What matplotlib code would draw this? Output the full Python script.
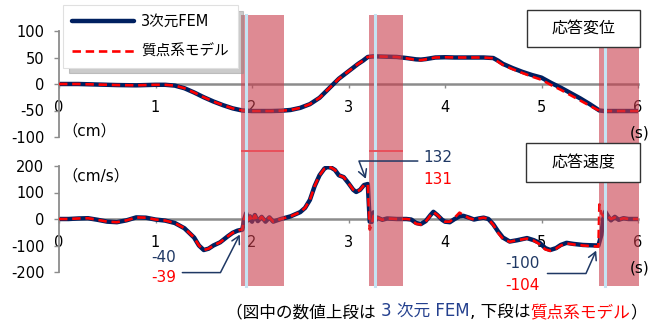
import matplotlib
matplotlib.use("Agg")
import matplotlib.pyplot as plt
from matplotlib.patches import Rectangle

plt.rcParams['font.family'] = ['DejaVu Sans', 'Noto Sans CJK JP']

# ---------------- data ----------------
series_names = ["3次元FEM", "質点系モデル"]

disp_t = [0.0, 0.2, 0.4, 0.6, 0.8, 1.0, 1.1, 1.2, 1.3, 1.4, 1.5, 1.6, 1.7, 1.8, 1.9,
          2.0, 2.1, 2.2, 2.3, 2.4, 2.5, 2.6, 2.7, 2.8, 2.9, 3.0, 3.1, 3.15, 3.2, 3.25,
          3.3, 3.4, 3.5, 3.6, 3.7, 3.75, 3.8, 3.9, 4.0, 4.1, 4.2, 4.3, 4.4, 4.5, 4.55,
          4.6, 4.7, 4.8, 4.9, 5.0, 5.1, 5.2, 5.3, 5.4, 5.5, 5.6, 5.65, 5.7, 5.8, 5.9, 6.0]
disp_fem = [0, 0, -1, -2, -2.5, -1.5, -1.5, -3, -8, -16, -25, -33, -40, -46, -50,
            -51, -51, -51, -50.5, -49, -45, -38, -26, -8, 10, 24, 38, 44, 51, 52,
            52, 51.5, 51, 49, 46.5, 46, 47, 50, 50.5, 50, 50, 50, 50, 49, 44,
            38, 30, 23, 17, 12, 2, -7, -17, -27, -38, -50, -51, -51, -51, -51, -51]
disp_model = [0, 0, -1, -2, -2.5, -1.5, -1.5, -3, -8, -16, -25, -33, -40, -46, -50,
              -51, -51, -51, -50.5, -49, -45, -38, -26, -8, 10, 24, 38, 44, 51, 52,
              52, 51.5, 51, 48.5, 45.5, 45, 46.5, 50, 50.5, 50, 50, 50, 50, 48.5, 42,
              36, 28, 21, 14, 8, -2, -11, -21, -31, -41, -50.5, -51, -51, -51, -51, -51]

vel_t_fem = [0.0, 0.1, 0.2, 0.3, 0.4, 0.5, 0.6, 0.7, 0.8, 0.9, 1.0, 1.1, 1.2, 1.3, 1.4,
             1.45, 1.5, 1.55, 1.6, 1.67, 1.75, 1.8, 1.85, 1.9, 1.92, 1.94, 1.96, 1.98,
             2.0, 2.03, 2.06, 2.1, 2.14, 2.18, 2.22, 2.26, 2.3, 2.35, 2.4, 2.45, 2.5,
             2.55, 2.6, 2.65, 2.7, 2.75, 2.78, 2.82, 2.86, 2.9, 2.95, 3.0, 3.05, 3.08,
             3.12, 3.16, 3.2, 3.22, 3.24, 3.26, 3.28, 3.3, 3.35, 3.4, 3.5, 3.6, 3.65,
             3.7, 3.75, 3.8, 3.85, 3.88, 3.92, 3.97, 4.0, 4.05, 4.1, 4.15, 4.19, 4.25,
             4.3, 4.35, 4.4, 4.45, 4.5, 4.55, 4.6, 4.67, 4.75, 4.85, 4.92, 4.98, 5.04,
             5.09, 5.15, 5.2, 5.26, 5.33, 5.43, 5.5, 5.59, 5.62, 5.64, 5.66, 5.69, 5.72,
             5.76, 5.8, 5.85, 5.9, 6.0]
vel_fem = [0, 0, 2, 3, -3, -10, -12, -5, 6, 5, -2, -6, -15, -35, -70,
           -100, -117, -112, -100, -88, -65, -52, -44, -40, 0, 22, -5, 10,
           -10, 15, -8, 8, -10, 6, -10, -5, 0, 5, 10, 18, 26,
           42, 72, 125, 165, 190, 196, 194, 185, 165, 158, 135, 110, 102,
           110, 128, 132, -10, -11, 25, -5, 5, -3, 2, 0, 0, -2,
           -15, -19, -8, 15, 27, 15, -3, -10, -12, 0, 10, 12, 5,
           -2, 2, 5, 0, -20, -47, -70, -85, -80, -72, -80, -90, -110,
           -117, -110, -98, -90, -94, -98, -99, -100, -60, 0, 28, 10, -5,
           8, -3, 3, 0, 0]

vel_t_model = [0.0, 0.1, 0.2, 0.3, 0.4, 0.5, 0.6, 0.7, 0.8, 0.9, 1.0, 1.1, 1.2, 1.3, 1.4,
               1.45, 1.5, 1.55, 1.6, 1.67, 1.75, 1.8, 1.85, 1.9, 1.92, 1.94, 1.96, 1.98,
               2.0, 2.03, 2.06, 2.1, 2.14, 2.18, 2.22, 2.26, 2.3, 2.35, 2.4, 2.45, 2.5,
               2.55, 2.6, 2.65, 2.7, 2.75, 2.78, 2.82, 2.86, 2.9, 2.95, 3.0, 3.05, 3.08,
               3.12, 3.16, 3.2, 3.22, 3.24, 3.26, 3.28, 3.3, 3.35, 3.4, 3.5, 3.6, 3.65,
               3.7, 3.75, 3.8, 3.85, 3.88, 3.92, 3.97, 4.0, 4.05, 4.1, 4.15, 4.19, 4.25,
               4.3, 4.35, 4.4, 4.45, 4.5, 4.55, 4.6, 4.67, 4.75, 4.85, 4.92, 4.98, 5.04,
               5.09, 5.15, 5.2, 5.26, 5.33, 5.43, 5.5, 5.59, 5.6, 5.62, 5.66, 5.69, 5.72,
               5.76, 5.8, 5.85, 5.9, 6.0]
vel_model = [0, 0, 2, 3, -3, -10, -12, -5, 6, 5, -2, -6, -15, -35, -70,
             -100, -117, -112, -100, -88, -65, -52, -44, -39, 0, 20, -5, 10,
             -10, 14, -8, 8, -10, 6, -10, -5, 0, 5, 10, 18, 26,
             42, 72, 125, 165, 190, 196, 194, 185, 165, 158, 135, 110, 102,
             110, 128, 131, -40, -22, 12, -5, 5, -3, 2, 0, 0, -2,
             -18, -21, -10, 14, 26, 15, -3, -10, -10, 5, 24, 15, 3,
             -2, 2, 5, 0, -22, -52, -75, -86, -80, -74, -82, -95, -115,
             -120, -112, -100, -92, -96, -100, -102, -104, 55, 20, 5, 10, 0,
             6, -3, 3, 0, 0]

# highlighted time windows and marker lines inside them (s)
band_spans = [(1.886, 2.332), (3.212, 3.565), (5.596, 6.01)]
band_marks = [1.943, 3.270, 5.663]

# values called out on the velocity panel: (time, FEM, model)
callouts = [(1.90, -40, -39), (3.20, 132, 131), (5.59, -100, -104)]

disp_ticks = [100, 50, 0, -50, -100]
vel_ticks = [200, 100, 0, -100, -200]
time_ticks = [0, 1, 2, 3, 4, 5, 6]

# ---------------- style ----------------
W, H = 652, 325
NAVY = '#002060'
NAVY_TXT = '#1F3864'
RED = '#FF0000'
GREY = '#8C8C8C'


def frac(x0, y0, x1, y1):
    return [x0 / W, 1 - y1 / H, (x1 - x0) / W, (y1 - y0) / H]


fig = plt.figure(figsize=(W / 100, H / 100), dpi=100)

ax_top = fig.add_axes(frac(59, 31, 638, 137))
ax_bot = fig.add_axes(frac(59, 166, 638, 272))


def style_axis(ax, lim, yticks):
    ax.set_xlim(0, 6)
    ax.set_ylim(-lim, lim)
    ax.patch.set_visible(False)
    for s in ('top', 'right'):
        ax.spines[s].set_visible(False)
    ax.spines['left'].set_color(GREY)
    ax.spines['left'].set_linewidth(1.3)
    ax.spines['bottom'].set_position(('data', 0))
    ax.spines['bottom'].set_color(GREY)
    ax.spines['bottom'].set_linewidth(1.8)
    ax.spines['bottom'].set_zorder(0.5)
    ax.set_yticks(yticks)
    ax.set_yticklabels([str(v) for v in yticks])
    ax.set_xticks(time_ticks)
    ax.set_xticklabels([str(v) for v in time_ticks])
    ax.tick_params(axis='y', direction='out', length=3.6, width=1.0, color=GREY,
                   pad=7, labelsize=10.5, labelcolor='black')
    ax.tick_params(axis='x', direction='out', length=3, width=1.0, color=GREY,
                   pad=8.5, labelsize=10.5, labelcolor='black')


style_axis(ax_top, 100, disp_ticks)
style_axis(ax_bot, 200, vel_ticks)

l_fem, = ax_top.plot(disp_t, disp_fem, color=NAVY, lw=3.2, solid_capstyle='round',
                     solid_joinstyle='round', zorder=2)
l_mod, = ax_top.plot(disp_t, disp_model, color=RED, lw=1.9, dashes=(3.2, 1.8), zorder=3)
ax_bot.plot(vel_t_fem, vel_fem, color=NAVY, lw=3.2, solid_capstyle='round',
            solid_joinstyle='round', zorder=2)
ax_bot.plot(vel_t_model, vel_model, color=RED, lw=1.9, dashes=(3.2, 1.8), zorder=3)

# translucent bands spanning both panels
ax_band = fig.add_axes(frac(59, 15, 638, 286), zorder=3)
ax_band.set_xlim(0, 6)
ax_band.set_ylim(0, 1)
ax_band.axis('off')
for (a, b), m in zip(band_spans, band_marks):
    ax_band.axvspan(a, b, color='#C83C4B', alpha=0.6, lw=0, clip_on=False)
    ax_band.axvline(m, color='#C5E3F2', lw=2.2, clip_on=False)
for (a, b) in band_spans[:2]:
    ax_band.hlines(0.498, a, b, color='#E8505C', lw=1.4, clip_on=False)

# callouts with bent leader arrows
leader = [(-60, -43, 63), (50, 23, 111), (-51, -28, 66)]
text_pos = [((164, 258), (164, 278)), ((438, 158), (438, 180)), ((522, 264), (522, 286))]
for (t, vf, vm), (dx, dy, angB), ((xf, yf), (xm, ym)) in zip(callouts, leader, text_pos):
    ax_band.annotate('', xy=(t, vf), xycoords=ax_bot.transData,
                     xytext=(dx, dy), textcoords='offset pixels',
                     arrowprops=dict(arrowstyle='->,head_length=0.55,head_width=0.3',
                                     color=NAVY_TXT, lw=1.1, shrinkA=0, shrinkB=4,
                                     connectionstyle=f'angle,angleA=0,angleB={angB},rad=0'),
                     annotation_clip=False)
    fig.text(xf / W, 1 - yf / H, f'{vf}', color=NAVY_TXT, fontsize=11,
             ha='center', va='center', zorder=7)
    fig.text(xm / W, 1 - ym / H, f'{vm}', color=RED, fontsize=11,
             ha='center', va='center', zorder=7)

# panel title boxes
for (x0, y0, x1, y1), label in [((527, 10, 640, 47), '応答変位'),
                                ((526, 143, 640, 182), '応答速度')]:
    fig.add_artist(Rectangle((x0 / W, 1 - y1 / H), (x1 - x0) / W, (y1 - y0) / H,
                             transform=fig.transFigure, facecolor='white',
                             edgecolor='#333333', lw=1.0, zorder=6))
    fig.text((x0 + x1) / 2 / W, 1 - (y0 + y1) / 2 / H, label, fontsize=11.5,
             ha='center', va='center', zorder=7)

# unit labels
fig.text(62 / W, 1 - 131 / H, '（cm）', fontsize=11, va='center', zorder=7)
fig.text(62 / W, 1 - 176 / H, '（cm/s）', fontsize=11, va='center', zorder=7)
fig.text(630 / W, 1 - 133 / H, '(s)', fontsize=11, va='center', zorder=7)
fig.text(630 / W, 1 - 268 / H, '(s)', fontsize=11, va='center', zorder=7)

# legend
leg = fig.legend([l_fem, l_mod], series_names, loc='upper left',
                 bbox_to_anchor=(63 / W, 1 - 5 / H), bbox_transform=fig.transFigure,
                 fontsize=10.5, handlelength=4.3, handletextpad=0.45,
                 labelspacing=1.05, borderpad=0.6, borderaxespad=0,
                 frameon=True, fancybox=False, edgecolor='#E0E0E0',
                 shadow={'ox': 4, 'oy': -4, 'color': '0.55', 'alpha': 0.45})
leg.get_frame().set_linewidth(0.8)
leg.set_zorder(8)

# caption below the chart with coloured parts
pieces = [('（図中の数値上段は ', 'black'), ('3 次元 FEM', '#24408E'),
          (', 下段は', 'black'), ('質点系モデル', RED), ('）', 'black')]
renderer = fig.canvas.get_renderer()
x = 226
for txt, col in pieces:
    t = fig.text(x / W, 1 - 317 / H, txt, color=col, fontsize=12.0,
                 ha='left', va='baseline', zorder=7)
    x = t.get_window_extent(renderer).x1

fig.savefig('out.png', dpi=100)
